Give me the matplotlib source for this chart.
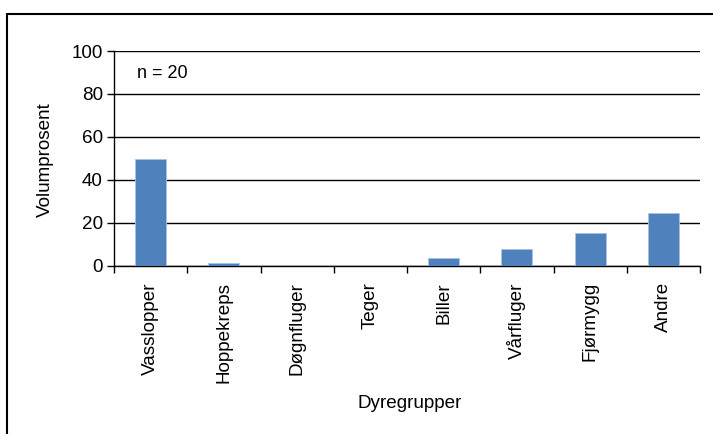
import matplotlib
matplotlib.use("Agg")
import matplotlib.pyplot as plt
import numpy as np
from matplotlib.patches import Rectangle

categories = ["Vasslopper", "Hoppekreps", "Døgnfluger", "Teger", "Biller", "Vårfluger", "Fjørmygg", "Andre"]
values = [49.5, 1.0, 0.0, 0.0, 3.3, 7.5, 15.0, 24.6]
yticks = [0, 20, 40, 60, 80, 100]

plt.rcParams['font.family'] = ['Liberation Sans', 'DejaVu Sans']
FS = 13.6
W, H = 713, 434
fig = plt.figure(figsize=(W/100, H/100), dpi=100)
ax = fig.add_axes([114/W, 1-265.5/H, (700-114)/W, (265.5-51)/H])

x = np.arange(len(categories))
ax.bar(x, values, width=0.42, color="#4F81BD", edgecolor="#A9C2E3", linewidth=0.6, zorder=3)
ax.set_xlim(-0.5, len(categories)-0.5)
ax.set_ylim(0, 100)
ax.set_yticks(yticks)
ax.set_yticklabels([str(t) for t in yticks], fontsize=FS)
ax.yaxis.grid(True, color="black", linewidth=1.0, zorder=1)
ax.set_axisbelow(True)

ax.set_xticks(x)
ax.set_xticklabels(categories, rotation=90, fontsize=FS)
ax.set_xticks(np.arange(len(categories)+1)-0.5, minor=True)
ax.tick_params(axis='x', which='major', length=0, pad=12)
ax.tick_params(axis='x', which='minor', length=5, width=1, color='black', direction='out')
ax.tick_params(axis='y', which='major', length=5, width=1, color='black', direction='out', pad=3)

for s in ['top', 'right']:
    ax.spines[s].set_visible(False)
for s in ['left', 'bottom']:
    ax.spines[s].set_color('black')
    ax.spines[s].set_linewidth(1.0)

ax.text(0.04, 0.895, "n = 20", transform=ax.transAxes, fontsize=FS-0.6, va='center', ha='left')

fig.text(410/W, 1-403/H, "Dyregrupper", ha='center', va='center', fontsize=FS)
fig.text(45/W, 1-160/H, "Volumprosent", ha='center', va='center', rotation=90, fontsize=FS)

frame = Rectangle((7/W, -0.1), 1.2, 1-14/H+0.1, transform=fig.transFigure,
                  fill=False, edgecolor='black', linewidth=1.5)
fig.patches.append(frame)

fig.savefig("out.png", dpi=100)
